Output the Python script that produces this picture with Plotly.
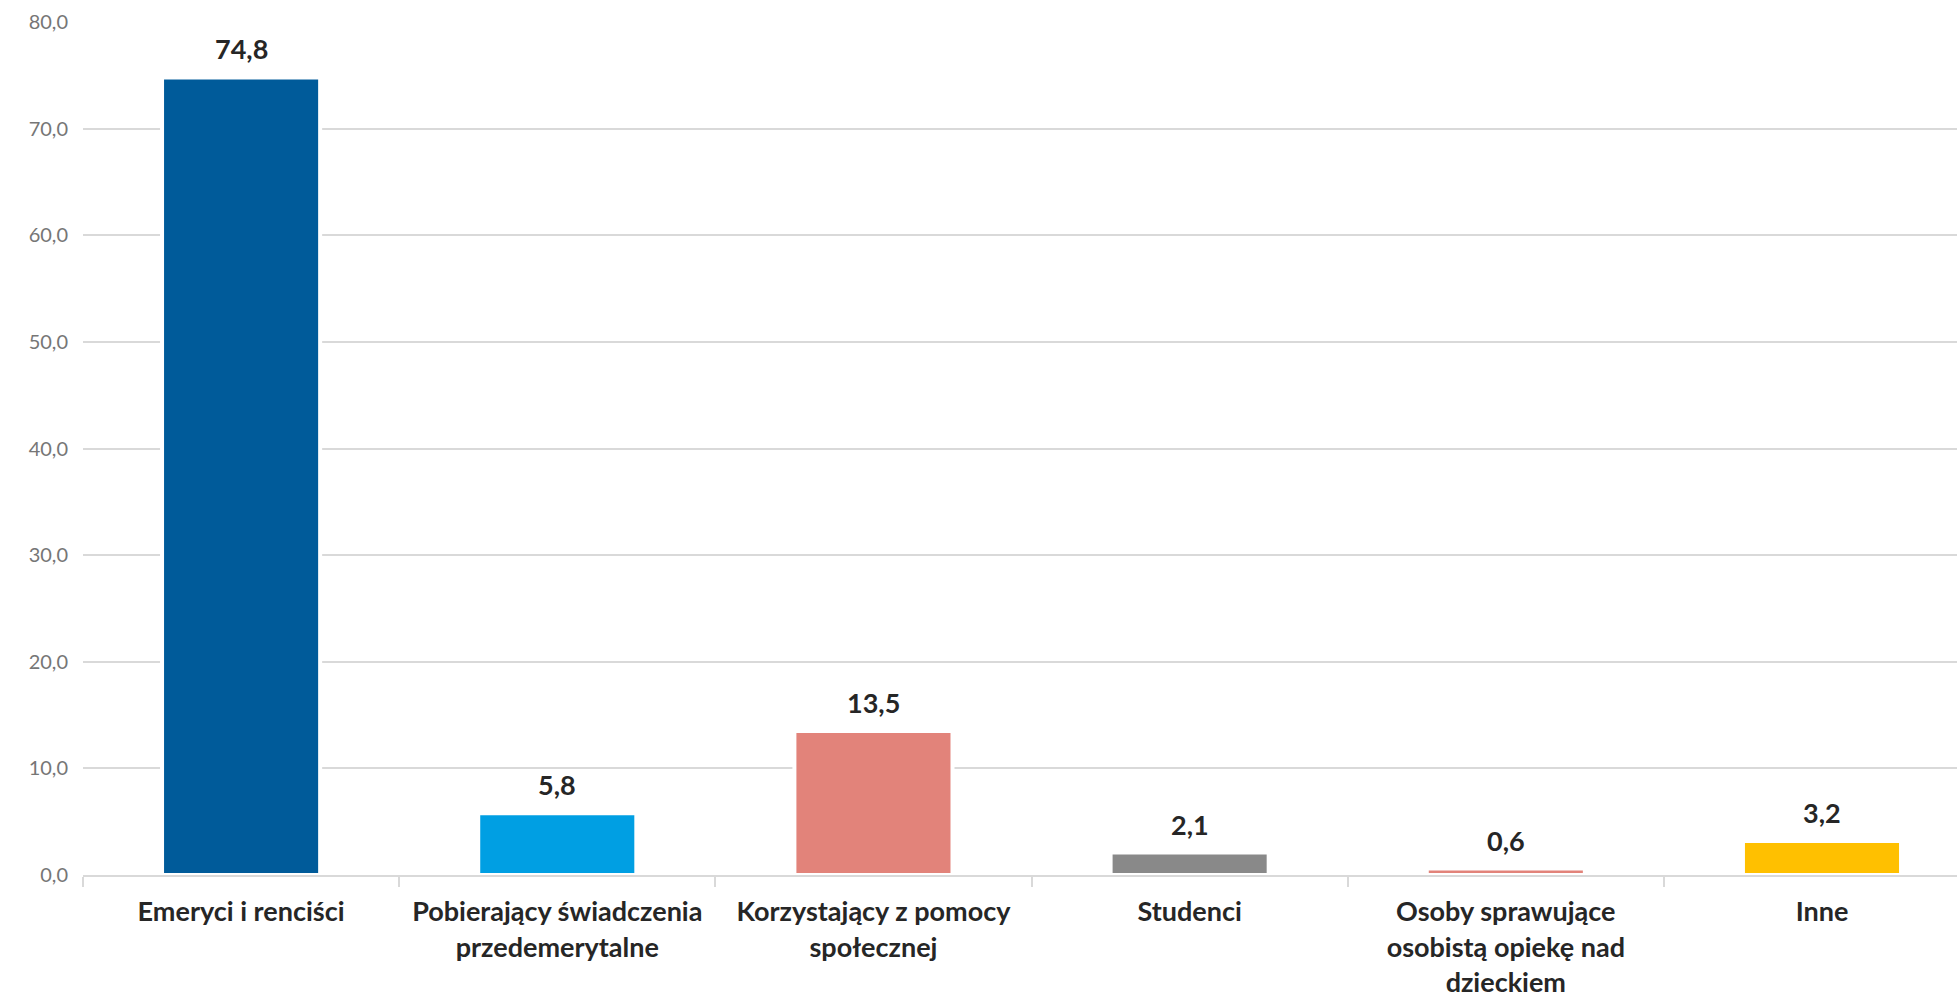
import plotly.graph_objects as go

categories = [
    "Emeryci i renciści",
    "Pobierający świadczenia<br>przedemerytalne",
    "Korzystający z pomocy<br>społecznej",
    "Studenci",
    "Osoby sprawujące<br>osobistą opiekę nad<br>dzieckiem",
    "Inne",
]
values = [74.8, 5.8, 13.5, 2.1, 0.6, 3.2]
bar_colors = ["#005B9A", "#009FE3", "#E2837A", "#898989", "#E2837A", "#FFC000"]
y_ticks = [0, 10, 20, 30, 40, 50, 60, 70, 80]

fig = go.Figure()
fig.add_trace(go.Bar(
    x=categories,
    y=values,
    width=0.5,
    marker=dict(color=bar_colors, line=dict(color="white", width=4)),
    hoverinfo="skip",
))

for c, v in zip(categories, values):
    fig.add_annotation(
        x=c, y=v, text="<b>" + f"{v:.1f}".replace(".", ",") + "</b>",
        showarrow=False, yanchor="bottom", yshift=10,
        font=dict(family="Lato", size=27, color="#262626"),
    )

fig.update_layout(
    width=1957, height=998,
    margin=dict(l=83, r=0, t=22, b=123),
    paper_bgcolor="white", plot_bgcolor="white",
    separators=", ",
    showlegend=False,
    font=dict(family="Lato"),
)
fig.update_xaxes(
    range=[-0.5, 5.427],
    showgrid=False,
    showline=True, linecolor="#D9D9D9", linewidth=2,
    ticks="outside", tickson="boundaries", ticklen=10, tickcolor="#D9D9D9", tickwidth=2,
    ticklabelstandoff=12,
    tickfont=dict(family="Lato", size=27, color="#262626"),
    tickprefix="<b>", ticksuffix="</b>",
)
fig.update_yaxes(
    range=[0, 80],
    tickvals=y_ticks,
    tickformat=".1f",
    showgrid=True, gridcolor="#D9D9D9", gridwidth=1.5,
    zeroline=False, showline=False, ticks="",
    ticklabelstandoff=14,
    tickfont=dict(family="Lato", size=20, color="#767676"),
)

fig.write_html("out.html", config={"displayModeBar": False},
               post_script="document.body.style.margin='0';")
